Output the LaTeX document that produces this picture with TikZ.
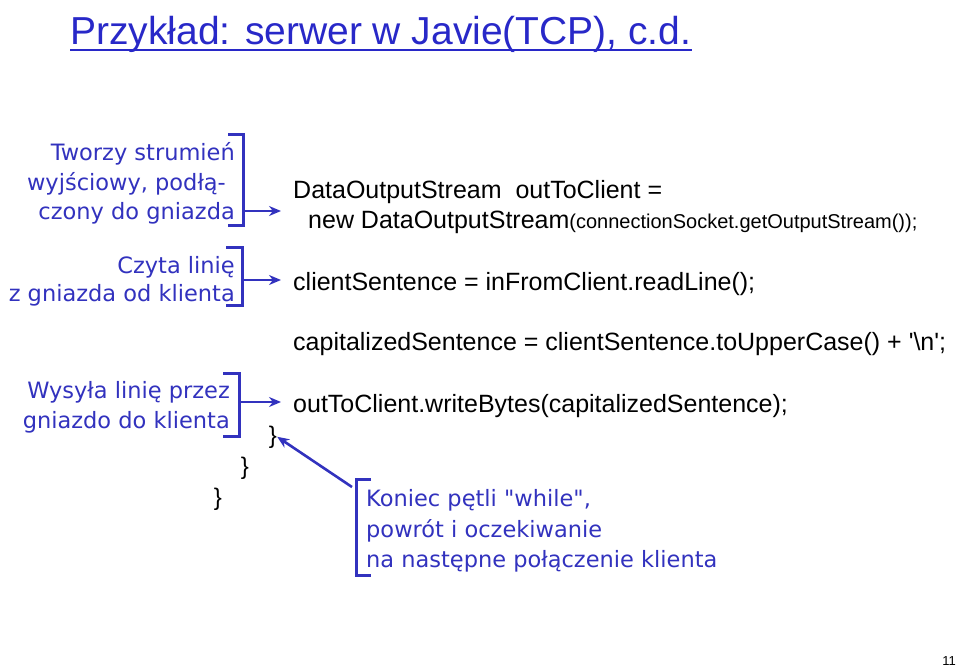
\documentclass[tikz,border=0pt]{standalone}
\usepackage{fontspec}
\setmainfont{Liberation Sans}
\newfontfamily\codefont{Liberation Sans}
\newfontfamily\notefont{DejaVu Sans}
\usetikzlibrary{arrows.meta}
\definecolor{tblue}{RGB}{40,40,200}
\definecolor{nblue}{RGB}{50,50,190}
\tikzset{
 code/.style={anchor=base west,inner sep=0pt,font=\codefont\fontsize{25}{29}\selectfont},
 note/.style={anchor=base east,inner sep=0pt,text=nblue,font=\notefont\fontsize{22.5}{27}\selectfont},
 noteL/.style={anchor=base west,inner sep=0pt,text=nblue,font=\notefont\fontsize{22.5}{27}\selectfont},
 brk/.style={draw=nblue,line width=3pt},
 arr/.style={draw=nblue,line width=2.6pt,-{Stealth[length=12pt,width=10pt]}},
 brace/.style={anchor=base,inner sep=0pt,font=\fontsize{24}{28}\selectfont}
}
\begin{document}
\begin{tikzpicture}[x=1pt,y=1pt]
\useasboundingbox (0,0) rectangle (960,-669);
\node[anchor=base west,inner sep=0pt,text=tblue,font=\fontsize{39}{46}\selectfont] (title) at (70,-45) {Przykład: serwer w Javie(TCP), c.d.};
\draw[tblue,line width=1.5pt] (title.base west) ++(0,-5) -- ([yshift=-5pt]title.base east);
% notes
\node[note] (n1) at (235,-160) {Tworzy strumień};
\node[note] (n2) at (226,-190) {wyjściowy, podłą-};
\node[note] (n3) at (235,-219) {czony do gniazda};
\node[note] (n4) at (235,-273) {Czyta linię};
\node[note] (n5) at (235,-301) {z gniazda od klienta};
\node[note] (n6) at (230,-398) {Wysyła linię przez};
\node[note] (n7) at (230,-428) {gniazdo do klienta};
% brackets
\draw[brk] (228,-134) -- (243,-134) -- (243,-225) -- (228,-225);
\draw[brk] (226,-247) -- (242,-247) -- (242,-305) -- (226,-305);
\draw[brk] (223,-373) -- (239,-373) -- (239,-436) -- (223,-436);
\coordinate (b1) at (243,-211);
\coordinate (b2) at (242,-280);
\coordinate (b3) at (239,-402);
% code
\node[code] (c1) at (293,-198) {DataOutputStream\ \ outToClient =};
\node[code] (c2) at (308,-228) {new DataOutputStream{\fontsize{20}{24}\selectfont(connectionSocket.getOutputStream());}};
\node[code] (c3) at (293,-290) {clientSentence = inFromClient.readLine();};
\node[code] (c4) at (293,-350) {capitalizedSentence = clientSentence.toUpperCase() + '\string\n';};
\node[code] (c5) at (293,-412) {outToClient.writeBytes(capitalizedSentence);};
\draw[arr] (b1) -- (281,-211);
\draw[arr] (b2) -- (281,-280);
\draw[arr] (b3) -- (281,-402);
% braces
\node[brace] (r1) at (273,-443) {\}};
\node[brace] (r2) at (245,-474) {\}};
\node[brace] (r3) at (218,-505) {\}};
% bottom note
\draw[brk] (371,-479) -- (356,-479) -- (356,-575) -- (371,-575);
\node[noteL] (k1) at (366,-506) {Koniec pętli "while",};
\node[noteL] (k2) at (366,-537) {powrót i oczekiwanie};
\node[noteL] (k3) at (366,-567) {na następne połączenie klienta};
\coordinate (kb) at (352,-487);
\draw[arr] (kb) -- (r1.east);
\node[anchor=base east,inner sep=0pt,font=\fontsize{13}{15}\selectfont] (pg) at (956,-665) {11};
\end{tikzpicture}
\end{document}
